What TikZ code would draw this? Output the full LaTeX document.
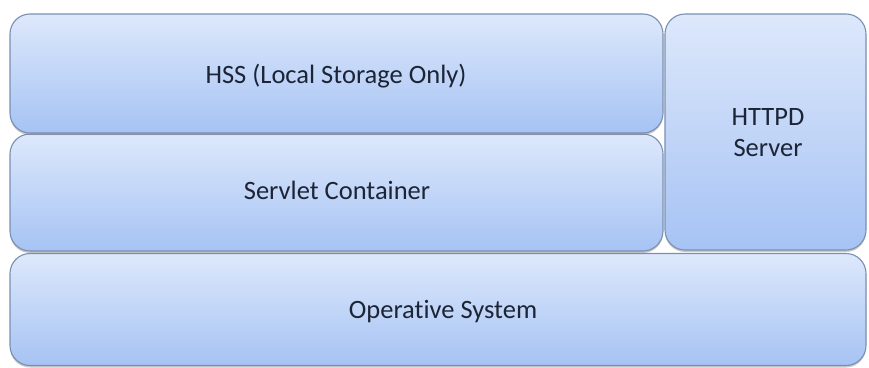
\documentclass[tikz,border=0pt]{standalone}
\usepackage{fontspec}
\setmainfont[RawFeature={-liga;-clig;-calt;-dlig}]{Carlito}
\usetikzlibrary{shadows}
\definecolor{boxtop}{HTML}{DDE8FB}
\definecolor{boxbot}{HTML}{A6C3F4}
\definecolor{boxline}{HTML}{7A90B2}
\definecolor{txt}{HTML}{1C2436}
\tikzset{
  layerbox/.style={draw=boxline, line width=1.1pt, rounded corners=20pt,
    top color=boxtop, bottom color=boxbot, inner sep=0pt,
    drop shadow={shadow xshift=0pt, shadow yshift=-2pt, opacity=0.35, fill=black!60}},
  layertext/.style={anchor=base, font=\fontsize{26.5}{31}\selectfont, text=txt, inner sep=0pt}
}
\begin{document}
\begin{tikzpicture}[x=1pt,y=-1pt]
\useasboundingbox (0,0) rectangle (869,367);
\fill[white] (0,0) rectangle (869,367);
\node[layerbox, minimum width=856pt, minimum height=112pt] (os) at (438,309.5) {};
\node[layerbox, minimum width=653pt, minimum height=117pt] (servlet) at (336.5,192.5) {};
\node[layerbox, minimum width=653pt, minimum height=119pt] (hss) at (336.5,73.5) {};
\node[layerbox, minimum width=201pt, minimum height=236pt] (httpd) at (765.5,132) {};
\node[layertext] (hsst) at (336,83) {HSS (Local Storage Only)};
\node[layertext] (servlett) at (337,199) {Servlet Container};
\node[layertext] (ost) at (443,318) {Operative System};
\node[layertext] (httpdt) at (768,125) {HTTPD};
\node[layertext] (servert) at (768,156) {Server};
\end{tikzpicture}
\end{document}
